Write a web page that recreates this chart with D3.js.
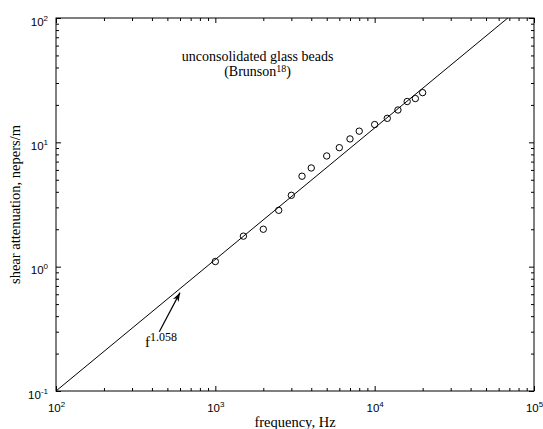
<!DOCTYPE html>
<html><head><meta charset="utf-8">
<script src="https://cdn.jsdelivr.net/npm/d3@7"></script>
<style>
body{margin:0;background:#fff}
svg{display:block}
</style></head>
<body>
<svg id="c" width="543" height="429"></svg>
<script>
// Data
const freq = [1000,1500,2000,2500,3000,3500,4000,5000,6000,7000,8000,10000,12000,14000,16000,18000,20000];
const atten = [1.10,1.76,2.0,2.84,3.75,5.34,6.22,7.77,9.06,10.65,12.3,13.9,15.6,18.2,21.3,22.5,25.1];
const fitExponent = 1.058;
const fitCoef = 0.1 / Math.pow(100, fitExponent); // passes 0.1 at 100 Hz
const fitFreq = [100, 100000];
const xTickExps = [2,3,4,5];
const yTickExps = [-1,0,1,2];
const titleLines = ["unconsolidated glass beads", "(Brunson", "18", ")"];
const xLabel = "frequency, Hz";
const yLabel = "shear attenuation, nepers/m";
const annText = ["f", "1.058"];

const svg = d3.select("#c");
const L=56,R=534,T=18,B=391;
const x = d3.scaleLog().domain([1e2,1e5]).range([L,R]);
const y = d3.scaleLog().domain([0.1,100]).range([B,T]);

const minor = [];
for (let e=2;e<5;e++) for (let m=2;m<=9;m++) minor.push(m*Math.pow(10,e));
const minorY = [];
for (let e=-1;e<2;e++) for (let m=2;m<=9;m++) minorY.push(m*Math.pow(10,e));
const majX = xTickExps.map(e=>Math.pow(10,e));
const majY = yTickExps.map(e=>Math.pow(10,e));

svg.append("defs").append("clipPath").attr("id","clip").append("rect")
  .attr("x",L).attr("y",T).attr("width",R-L).attr("height",B-T);

function styleAxis(g){
  g.select(".domain").remove();
  g.selectAll("line").attr("stroke","#000").attr("stroke-width",1);
}
// minor ticks
svg.append("g").attr("transform",`translate(0,${B})`).call(d3.axisBottom(x).tickValues(minor).tickSize(-3).tickFormat(()=>"")).call(styleAxis);
svg.append("g").attr("transform",`translate(0,${T})`).call(d3.axisTop(x).tickValues(minor).tickSize(-3).tickFormat(()=>"")).call(styleAxis);
svg.append("g").attr("transform",`translate(${L},0)`).call(d3.axisLeft(y).tickValues(minorY).tickSize(-3).tickFormat(()=>"")).call(styleAxis);
svg.append("g").attr("transform",`translate(${R},0)`).call(d3.axisRight(y).tickValues(minorY).tickSize(-3).tickFormat(()=>"")).call(styleAxis);
// major ticks
const gxb = svg.append("g").attr("transform",`translate(0,${B})`).call(d3.axisBottom(x).tickValues(majX).tickSize(-5).tickFormat(()=>"")).call(styleAxis);
svg.append("g").attr("transform",`translate(0,${T})`).call(d3.axisTop(x).tickValues(majX).tickSize(-5).tickFormat(()=>"")).call(styleAxis);
const gyl = svg.append("g").attr("transform",`translate(${L},0)`).call(d3.axisLeft(y).tickValues(majY).tickSize(-5).tickFormat(()=>"")).call(styleAxis);
svg.append("g").attr("transform",`translate(${R},0)`).call(d3.axisRight(y).tickValues(majY).tickSize(-5).tickFormat(()=>"")).call(styleAxis);

const tickFont = "'Liberation Sans', Arial, sans-serif";
gxb.selectAll(".tick text").remove();
gxb.selectAll(".tick").each(function(d){
  const t = d3.select(this).append("text").attr("y",21).attr("text-anchor","middle")
    .attr("font-family",tickFont).attr("font-size",11.5).attr("fill","#000");
  t.append("tspan").text("10");
  t.append("tspan").attr("dy",-5).attr("font-size",8).text(Math.round(Math.log10(d)));
});
gyl.selectAll(".tick text").remove();
gyl.selectAll(".tick").each(function(d){
  const t = d3.select(this).append("text").attr("x",-8).attr("y",7).attr("text-anchor","end")
    .attr("font-family",tickFont).attr("font-size",11.5).attr("fill","#000");
  t.append("tspan").text("10");
  t.append("tspan").attr("dy",-5).attr("font-size",8).text(Math.round(Math.log10(d)));
});

// frame
svg.append("rect").attr("x",L).attr("y",T).attr("width",R-L).attr("height",B-T)
  .attr("fill","none").attr("stroke","#000").attr("stroke-width",1);

// fit line
const fitPts = fitFreq.map(f=>[f, fitCoef*Math.pow(f,fitExponent)]);
svg.append("path").attr("clip-path","url(#clip)")
  .attr("d", d3.line().x(d=>x(d[0])).y(d=>y(d[1]))(fitPts))
  .attr("fill","none").attr("stroke","#000").attr("stroke-width",1);

// points
svg.append("g").selectAll("circle").data(freq.map((f,i)=>[f,atten[i]])).join("circle")
  .attr("cx",d=>x(d[0])).attr("cy",d=>y(d[1])).attr("r",3.2)
  .attr("fill","none").attr("stroke","#000").attr("stroke-width",1);

const serif = "'Liberation Serif', 'Times New Roman', serif";
// title
const tx = x(1841);
svg.append("text").attr("x",tx).attr("y",y(45.5)).attr("text-anchor","middle")
  .attr("font-family",serif).attr("font-size",14).text(titleLines[0]);
const t2 = svg.append("text").attr("x",tx).attr("y",y(34.2)).attr("text-anchor","middle")
  .attr("font-family",serif).attr("font-size",14);
t2.append("tspan").text(titleLines[1]);
t2.append("tspan").attr("dy",-4).attr("font-size",10).text(titleLines[2]);
t2.append("tspan").attr("dy",4).text(titleLines[3]);

// arrow annotation
const arrowTail = [445, 0.30], arrowTip = [600, 0.618];
const x1=x(arrowTail[0]), y1=y(arrowTail[1]), x2=x(arrowTip[0]), y2=y(arrowTip[1]);
svg.append("line").attr("x1",x1).attr("y1",y1).attr("x2",x2).attr("y2",y2).attr("stroke","#000").attr("stroke-width",1.2);
const ang = Math.atan2(y2-y1,x2-x1), hl=9, hw=3.2;
const bx = x2 - hl*Math.cos(ang), by = y2 - hl*Math.sin(ang);
const px = -Math.sin(ang)*hw, py = Math.cos(ang)*hw;
svg.append("path").attr("d",`M${x2},${y2}L${bx+px},${by+py}L${bx+hl*0.3*Math.cos(ang)},${by+hl*0.3*Math.sin(ang)}L${bx-px},${by-py}Z`).attr("fill","#000");
const at = svg.append("text").attr("x",x(362)).attr("y",y(0.226)).attr("font-family",serif).attr("font-size",15);
at.append("tspan").text(annText[0]);
at.append("tspan").attr("dy",-6).attr("font-size",12).text(annText[1]);

// axis labels
svg.append("text").attr("x",(L+R)/2).attr("y",427).attr("text-anchor","middle")
  .attr("font-family",serif).attr("font-size",14.5).text(xLabel);
svg.append("text").attr("transform",`translate(20,${(T+B)/2}) rotate(-90)`).attr("text-anchor","middle")
  .attr("font-family",serif).attr("font-size",14.5).text(yLabel);
</script>
</body></html>
